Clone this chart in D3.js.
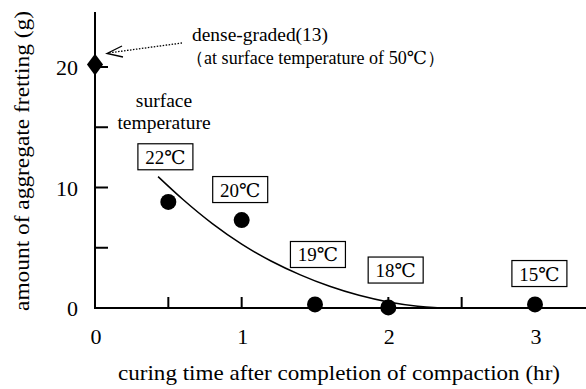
<!DOCTYPE html>
<html>
<head>
<meta charset="utf-8">
<script src="https://cdn.jsdelivr.net/npm/d3@7"></script>
<style>
  body { margin: 0; background: #fff; }
</style>
</head>
<body>
<div id="chart"></div>
<script>
// measured points (curing time hr, fretting g)
var pointHours = [0.5, 1, 1.5, 2, 3];
var pointValues = [8.8, 7.3, 0.3, 0.05, 0.3];
var pointLabels = ["22℃", "20℃", "19℃", "18℃", "15℃"];
// where each temperature box sits (hr, g)
var labelHours = [0.48, 0.99, 1.52, 2.05, 3.03];
var labelValues = [12.55, 9.83, 4.44, 3.15, 2.86];

// reference point: dense-graded at 50℃
var refHour = [0];
var refValue = [20.2];

// fitted curve
var curveHours = [0.43, 0.6, 0.8, 1.0, 1.2, 1.4, 1.6, 1.8, 2.0, 2.2, 2.4, 3.0];
var curveValues = [10.9, 9.0, 7.0, 5.3, 3.9, 2.75, 1.8, 1.05, 0.5, 0.15, 0.0, 0.0];

var xTicks = [0, 1, 2, 3];
var xMinor = [0.5, 1, 1.5, 2, 2.5, 3];
var yTicks = [0, 10, 20];
var yMinor = [5, 10, 15, 20];

var FONT = '"Liberation Serif", "DejaVu Serif", serif';
var W = 586, H = 389;
var svg = d3.select("#chart").append("svg")
    .attr("width", W)
    .attr("height", H)
    .attr("font-family", FONT);

var x = d3.scaleLinear().domain([0, 3]).range([95, 535]),
    y = d3.scaleLinear().domain([0, 20]).range([308, 67]);

// axes lines
svg.append("line")
    .attr("x1", x(0)).attr("x2", W)
    .attr("y1", y(0)).attr("y2", y(0))
    .attr("stroke", "#000").attr("stroke-width", 2);
svg.append("line")
    .attr("x1", x(0)).attr("x2", x(0))
    .attr("y1", y(0) + 1).attr("y2", 12)
    .attr("stroke", "#000").attr("stroke-width", 2);

// ticks point inward
svg.selectAll(".xt").data(xMinor).enter().append("line")
    .attr("x1", function (d) { return x(d); })
    .attr("x2", function (d) { return x(d); })
    .attr("y1", y(0)).attr("y2", y(0) - 11)
    .attr("stroke", "#000").attr("stroke-width", 2);
svg.selectAll(".yt").data(yMinor).enter().append("line")
    .attr("x1", x(0)).attr("x2", x(0) + 13)
    .attr("y1", function (d) { return y(d); })
    .attr("y2", function (d) { return y(d); })
    .attr("stroke", "#000").attr("stroke-width", 2);

svg.selectAll(".xl").data(xTicks).enter().append("text")
    .attr("x", function (d) { return x(d) + 1; })
    .attr("y", 344)
    .attr("text-anchor", "middle")
    .attr("font-size", 22)
    .text(function (d) { return d; });
svg.selectAll(".yl").data(yTicks).enter().append("text")
    .attr("x", 78)
    .attr("y", function (d) { return y(d) + 8; })
    .attr("text-anchor", "end")
    .attr("font-size", 22)
    .text(function (d) { return d; });

svg.append("text")
    .attr("x", 339).attr("y", 380)
    .attr("text-anchor", "middle")
    .attr("font-size", 22)
    .attr("textLength", 442)
    .attr("lengthAdjust", "spacingAndGlyphs")
    .text("curing time after completion of compaction (hr)");
svg.append("text")
    .attr("transform", "translate(29,161) rotate(-90)")
    .attr("text-anchor", "middle")
    .attr("font-size", 22)
    .attr("textLength", 300)
    .attr("lengthAdjust", "spacingAndGlyphs")
    .text("amount of aggregate fretting (g)");

// curve
var curveData = d3.zip(curveHours, curveValues);
var line = d3.line()
    .x(function (d) { return x(d[0]); })
    .y(function (d) { return y(d[1]); })
    .curve(d3.curveMonotoneX);
svg.append("path")
    .datum(curveData)
    .attr("d", line)
    .attr("fill", "none")
    .attr("stroke", "#000")
    .attr("stroke-width", 1.5);

// points
svg.selectAll(".pt").data(d3.zip(pointHours, pointValues)).enter().append("circle")
    .attr("cx", function (d) { return x(d[0]); })
    .attr("cy", function (d) { return y(d[1]); })
    .attr("r", 8)
    .attr("fill", "#000");

svg.selectAll(".ref").data(d3.zip(refHour, refValue)).enter().append("path")
    .attr("transform", function (d) { return "translate(" + x(d[0]) + "," + y(d[1]) + ") scale(1.15,0.9)"; })
    .attr("d", d3.symbol().type(d3.symbolDiamond).size(170))
    .attr("fill", "#000");

// temperature boxes
var boxes = svg.selectAll(".lab").data(d3.zip(labelHours, labelValues, pointLabels)).enter()
    .append("g")
    .attr("transform", function (d) { return "translate(" + x(d[0]) + "," + y(d[1]) + ")"; });
boxes.append("rect")
    .attr("x", -27.5).attr("y", -13)
    .attr("width", 55).attr("height", 26)
    .attr("fill", "#fff")
    .attr("stroke", "#000").attr("stroke-width", 1.2);
boxes.append("text")
    .attr("y", 7)
    .attr("text-anchor", "middle")
    .attr("font-size", 19)
    .text(function (d) { return d[2]; });

svg.append("text")
    .attr("x", 164).attr("y", 107)
    .attr("text-anchor", "middle")
    .attr("font-size", 19.5)
    .text("surface");
svg.append("text")
    .attr("x", 164).attr("y", 129)
    .attr("text-anchor", "middle")
    .attr("font-size", 19.5)
    .text("temperature");

// annotation
svg.append("text")
    .attr("x", 192).attr("y", 41)
    .attr("font-size", 18)
    .attr("textLength", 136)
    .attr("lengthAdjust", "spacingAndGlyphs")
    .text("dense-graded(13)");
svg.append("text")
    .attr("x", 186).attr("y", 64)
    .attr("font-size", 18)
    .attr("textLength", 259)
    .attr("lengthAdjust", "spacingAndGlyphs")
    .text("（at surface temperature of 50℃）");

svg.append("line")
    .attr("x1", 182).attr("y1", 43)
    .attr("x2", 108).attr("y2", 53)
    .attr("stroke", "#000").attr("stroke-width", 1.3)
    .attr("stroke-dasharray", "1.5,1.5");
svg.append("path")
    .attr("d", "M122,46 L107,53.5 L123,57")
    .attr("fill", "none")
    .attr("stroke", "#000").attr("stroke-width", 1.3);
</script>
</body>
</html>
